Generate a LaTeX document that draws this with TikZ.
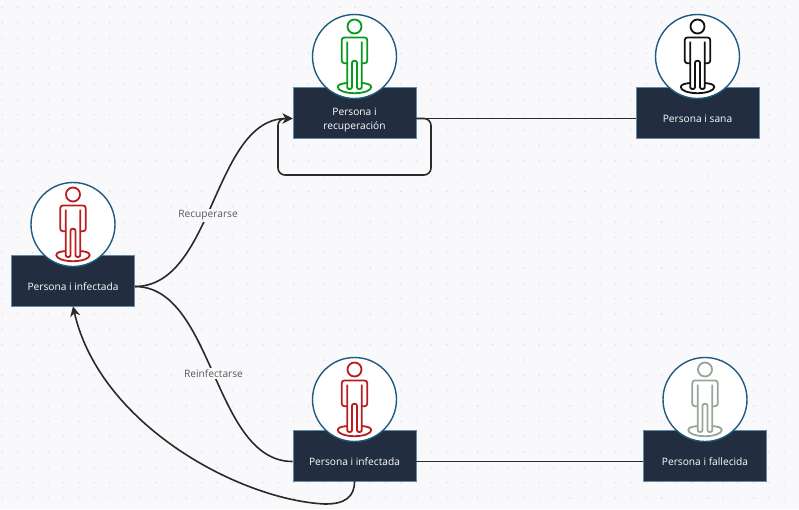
\documentclass[tikz,border=0pt]{standalone}
\usepackage{fontspec}
\setmainfont{Open Sans}
\usepackage{xcolor}
\usetikzlibrary{arrows.meta,positioning,calc}

\definecolor{fondo}{HTML}{F9F9FC}
\definecolor{punto}{HTML}{DEDEE4}
\definecolor{caja}{HTML}{222D3F}
\definecolor{borde}{HTML}{1F5B7F}
\definecolor{linea}{HTML}{2A2A2A}
\definecolor{rojo}{HTML}{B81E1E}
\definecolor{verde}{HTML}{069A1C}
\definecolor{negro}{HTML}{111111}
\definecolor{gris}{HTML}{98A598}

\tikzset{
    personbox/.style={draw=borde!70!white, line width=0.8pt, fill=caja, minimum width=123pt, minimum height=51pt, inner sep=0pt},
    boxtext/.style={text=white, font=\fontsize{10.2}{14}\selectfont, align=center, inner sep=0pt},
    iconcircle/.style={draw=borde, line width=1.4pt, fill=white, circle, minimum size=84pt, inner sep=0pt},
    flow/.style={draw=linea, line width=1.6pt},
    flowtip/.style={flow, -{Stealth[length=10pt,width=10pt]}},
    flowlabel/.style={fill=fondo, text=black!65, font=\fontsize{10.2}{12}\selectfont, inner sep=1.5pt},
    person/.pic={
        \draw[line width=1.8pt, pic actions] (0,-30) circle[radius=7pt];
        \draw[line width=1.8pt, rounded corners=2.5pt, pic actions] (-7.3,6.7) -- (-12.7,6.7) -- (-12.7,-19) -- (12.7,-19) -- (12.7,6.7) -- (7.3,6.7);
        \draw[line width=1.8pt, rounded corners=2pt, pic actions] (-7.3,-15) -- (-7.3,32.5) -- (-2.5,32.5) -- (-2.5,4.3) -- (2.5,4.3) -- (2.5,32.5) -- (7.3,32.5) -- (7.3,-15);
        \draw[line width=1.8pt, pic actions] (-7.3,26.5) .. controls (-13,27) and (-16.7,28) .. (-16.7,30.7)
            .. controls (-16.7,34) and (-9,36.7) .. (0,36.7)
            .. controls (9,36.7) and (16.7,34) .. (16.7,30.7)
            .. controls (16.7,28) and (13,27) .. (7.3,26.5);
    }
}

\begin{document}
\begin{tikzpicture}[x=1pt,y=-1pt]
    \useasboundingbox (0,0) rectangle (799,509);
    \fill[fondo] (0,0) rectangle (799,509);
    % dotted grid
    \foreach \i in {0,...,52} {
        \foreach \j in {0,...,33} {
            \fill[punto] (2.3+\i*15.33, 7.4+\j*15.33) circle[radius=0.8pt];
        }
    }

    \foreach \nm/\x/\y/\col/\shft/\txt in {
        recup/354.5/112.5/verde/-7.5/{Persona i\\recuperación},
        sana/697.5/112.5/negro/-6.5/{Persona i sana},
        infec/73/280.5/rojo/-6.5/{Persona i infectada},
        reinf/354.5/455.5/rojo/-6.5/{Persona i infectada},
        falle/705/455.5/gris/-6.5/{Persona i fallecida}} {
        \node[personbox] (\nm) at (\x,\y) {};
        \node[boxtext, yshift=\shft pt] (\nm-text) at (\nm.center) {\txt};
        \node[iconcircle, yshift=56pt] (\nm-circle) at (\nm.center) {};
        \pic[draw=\col] at (\nm-circle.center) {person};
        % ports sit below the middle of the box
        \coordinate (\nm-in) at ($(\nm.west)+(0,6)$);
        \coordinate (\nm-out) at ($(\nm.east)+(0,6)$);
    }

    % connectors
    \draw[flowtip] (infec-out) .. controls (214,286.5) and (213,118.5) .. (recup-in);
    \draw[flow] (infec-out) .. controls (214,286.5) and (213,461.5) .. (reinf-in);
    \draw[flow] (recup-out) -- (sana-in);
    \draw[flow] (reinf-out) -- (falle-in);
    \draw[flowtip, rounded corners=7pt] (recup-out) -- (431,118.5) -- (431,175) -- (278,175) -- (278,118.5) -- (recup-in);
    \draw[flowtip] (reinf.south) .. controls (354.5,497) and (345,504) .. (325,504)
        .. controls (240,500) and (100,425) .. (infec.south);

    \node[flowlabel] (recuperarse) at (208,215.5) {Recuperarse};
    \node[flowlabel] (reinfectarse) at (213.5,373.5) {Reinfectarse};
\end{tikzpicture}
\end{document}
